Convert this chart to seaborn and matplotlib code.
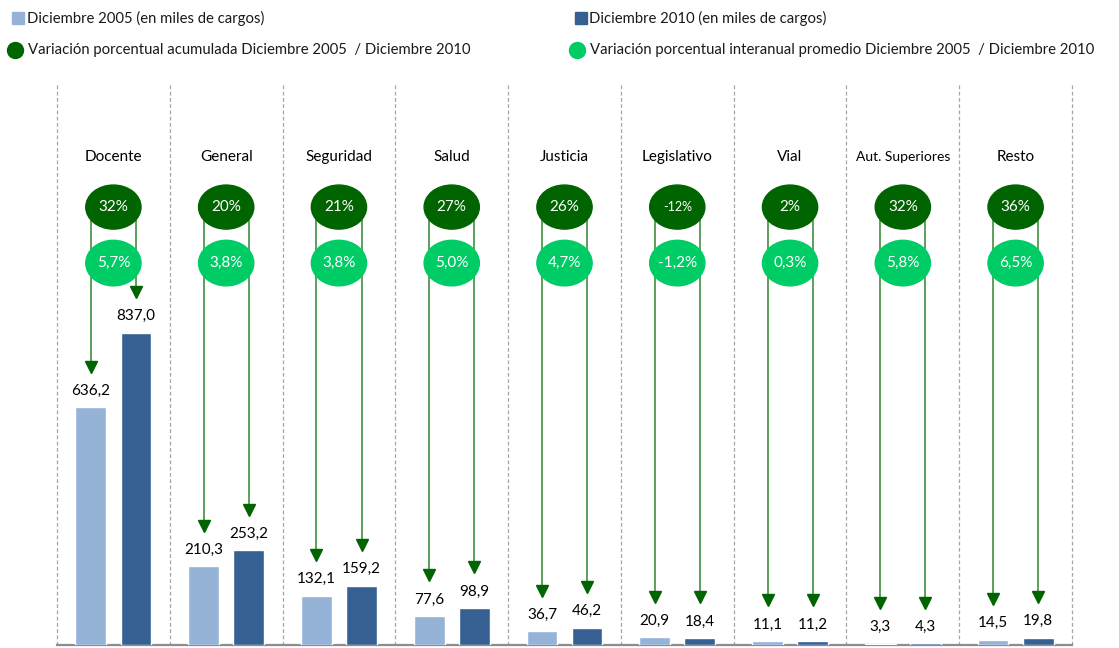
import seaborn as sns
import pandas as pd
import matplotlib.pyplot as plt
from matplotlib.patches import Ellipse
from matplotlib.lines import Line2D

# data
categorias = ["Docente", "General", "Seguridad", "Salud", "Justicia",
              "Legislativo", "Vial", "Aut. Superiores", "Resto"]
dic_2005 = [636.2, 210.3, 132.1, 77.6, 36.7, 20.9, 11.1, 3.3, 14.5]
dic_2010 = [837.0, 253.2, 159.2, 98.9, 46.2, 18.4, 11.2, 4.3, 19.8]
var_acumulada = [32, 20, 21, 27, 26, -12, 2, 32, 36]
var_interanual = [5.7, 3.8, 3.8, 5.0, 4.7, -1.2, 0.3, 5.8, 6.5]

serie_2005 = "Diciembre 2005 (en miles de cargos)"
serie_2010 = "Diciembre 2010 (en miles de cargos)"
ley_acum = "Variación porcentual acumulada Diciembre 2005  / Diciembre 2010"
ley_inter = "Variación porcentual interanual promedio Diciembre 2005  / Diciembre 2010"

c_light = "#95B3D7"
c_dark = "#366092"
g_dark = "#006400"
g_light = "#00CC66"
g_line = "#4f9a4f"

sns.set_style("white")
plt.rcParams["font.family"] = ["Lato", "DejaVu Sans"]

df = pd.DataFrame({
    "cat": categorias * 2,
    "valor": dic_2005 + dic_2010,
    "serie": [serie_2005] * len(categorias) + [serie_2010] * len(categorias),
})

fig = plt.figure(figsize=(11.19, 6.48), dpi=100)
ax = fig.add_axes([57 / 1119, 3 / 648, 1015 / 1119, 560 / 648])

sns.barplot(data=df, x="cat", y="valor", hue="serie", order=categorias,
            palette=[c_light, c_dark], width=0.8, gap=0.32, legend=False,
            saturation=1, ax=ax, zorder=3)

ax.set_xlim(-0.5, len(categorias) - 0.5)
ax.set_ylim(0, 1500)
ax.set_xticks([])
ax.set_yticks([])
ax.set_xlabel("")
ax.set_ylabel("")
for s in ["top", "left", "right"]:
    ax.spines[s].set_visible(False)
ax.spines["bottom"].set_color("#8c8c8c")
ax.spines["bottom"].set_linewidth(1.6)
ax.spines["bottom"].set_zorder(2)

# dashed separators
for i in range(len(categorias) + 1):
    ax.axvline(i - 0.5, color="#a6a6a6", lw=0.9, ls=(0, (3, 2)), zorder=0,
               clip_on=False)

y_dark = 1173
y_light = 1023
y_cat = 1307
offset = 0.2

for i, cat in enumerate(categorias):
    fs = 10 if len(cat) > 12 else 11
    ax.text(i, y_cat, cat, ha="center", va="center", fontsize=fs, color="black")
    for dx, v in [(-offset, dic_2005[i]), (offset, dic_2010[i])]:
        tip = v + 95
        ax.plot([i + dx, i + dx], [y_dark, tip + 20], color=g_line, lw=1.3, zorder=1)
        ax.plot(i + dx, tip + 14, marker="v", ms=8, color=g_dark, mec=g_dark, zorder=2)
        ax.text(i + dx, v + 44, f"{v:.1f}".replace(".", ","), ha="center",
                va="center", fontsize=11, color="black")
    ax.add_patch(Ellipse((i, y_dark), 0.49, 118, color=g_dark, zorder=3))
    ax.add_patch(Ellipse((i, y_light), 0.49, 122, color=g_light, zorder=3))
    a = var_acumulada[i]
    ax.text(i, y_dark, f"{a}%", ha="center", va="center", color="white",
            fontsize=9 if a < 0 else 11, zorder=4)
    ax.text(i, y_light, f"{var_interanual[i]:.1f}%".replace(".", ","),
            ha="center", va="center", color="white", fontsize=11, zorder=4)

# legend (pixel positions from the top-left corner)
def px(x, y):
    return x / 1119, 1 - y / 648

items = [
    (18, 27, 18, "s", 8, c_light, serie_2005),
    (581, 589, 18, "s", 8, c_dark, serie_2010),
    (15, 28, 50, "o", 11.5, g_dark, ley_acum),
    (577, 590, 50, "o", 11.5, g_light, ley_inter),
]
for mx, tx, y, m, ms, col, lab in items:
    fx, fy = px(mx, y)
    fig.add_artist(Line2D([fx], [fy], marker=m, ms=ms, color=col, mec=col,
                          transform=fig.transFigure))
    fig.text(tx / 1119, fy, lab, ha="left", va="center", fontsize=10.7,
             color="#1a1a1a")

fig.savefig("out.png", dpi=100)
